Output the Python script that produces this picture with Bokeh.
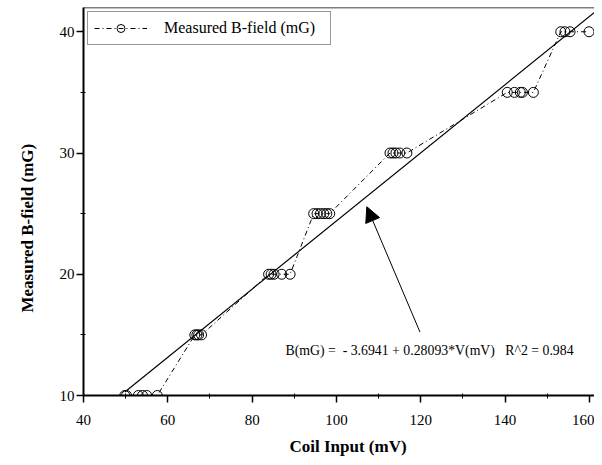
from bokeh.plotting import figure
from bokeh.models import FixedTicker, Arrow, NormalHead, Span, Label, Range1d, Title
from bokeh.embed import file_html
from bokeh.resources import INLINE
import numpy as np

# Data (coil input in mV, measured field in mG), in measurement order
coil_mv = [49.8, 50.2, 53.0, 54.0, 55.0, 57.5,
           66.4, 66.9, 67.3, 68.0,
           83.9, 84.5, 85.2, 87.0, 89.0,
           94.6, 95.4, 96.2, 97.0, 97.7, 98.4,
           112.7, 113.4, 114.1, 115.0, 116.7,
           140.5, 142.2, 143.6, 144.1, 146.7,
           153.2, 154.2, 155.4, 159.9]
field_mg = [10, 10, 10, 10, 10, 10,
            15, 15, 15, 15,
            20, 20, 20, 20, 20,
            25, 25, 25, 25, 25, 25,
            30, 30, 30, 30, 30,
            35, 35, 35, 35, 35,
            40, 40, 40, 40]
fit_intercept = -3.6941
fit_slope = 0.28093
fit_r2 = 0.984
x_ticks = [40, 60, 80, 100, 120, 140, 160]
x_minor = [50, 70, 90, 110, 130, 150]
y_ticks = [10, 20, 30, 40]
y_minor = [15, 25, 35]
X_START, X_END = 40, 161.2
Y_START, Y_END = 10, 42

FONT = "Liberation Serif"

p = figure(width=594, height=465,
           x_range=Range1d(X_START, X_END), y_range=Range1d(Y_START, Y_END),
           output_backend="svg", toolbar_location=None,
           min_border_left=80, min_border_right=0, min_border_top=7, min_border_bottom=70)
p.xgrid.visible = False
p.ygrid.visible = False
p.outline_line_color = None
p.background_fill_color = "white"

# top frame line
p.add_layout(Span(location=Y_END, dimension="width", line_color="black", line_width=1.5))

# data series
p.line(coil_mv, field_mg, line_color="black", line_width=1, line_dash="5 3 1 3",
       legend_label="Measured B-field (mG)")
p.scatter(coil_mv, field_mg, marker="circle", size=10, fill_color=None,
          line_color="black", line_width=1, legend_label="Measured B-field (mG)")

# regression line
fx = np.array([min(coil_mv), X_END])
fy = fit_intercept + fit_slope * fx
p.line(fx, fy, line_color="black", line_width=1.2)

# annotation
txt = ("B(mG) =\u00a0 - " + str(abs(fit_intercept)) + " + " + str(fit_slope) +
       "*V(mV)\u00a0\u00a0 R^2 = " + str(fit_r2))
p.add_layout(Label(x=87.9, y=13.72, text=txt, text_font=FONT, text_font_size="13.8px",
                   text_baseline="middle", text_align="left", text_color="black"))
p.add_layout(Arrow(end=NormalHead(size=15, fill_color="black", line_color="black"),
                   x_start=119.8, y_start=15.24, x_end=107.2, y_end=25.57,
                   line_color="black", line_width=1))

# axes
for ax in (p.xaxis[0], p.yaxis[0]):
    ax.axis_line_width = 2
    ax.axis_line_color = "black"
    ax.major_tick_line_color = "black"
    ax.minor_tick_line_color = "black"
    ax.major_tick_line_width = 1.5
    ax.minor_tick_line_width = 1
    ax.major_tick_out = 7
    ax.major_tick_in = 0
    ax.minor_tick_out = 3
    ax.minor_tick_in = 2
    ax.major_label_text_font = FONT
    ax.major_label_text_font_size = "15px"
    ax.major_label_text_color = "black"

p.xaxis[0].ticker = FixedTicker(ticks=x_ticks, minor_ticks=x_minor)
p.yaxis[0].ticker = FixedTicker(ticks=y_ticks, minor_ticks=y_minor)
p.xaxis[0].major_label_standoff = 12
p.yaxis[0].major_label_standoff = 2

# axis titles (placed like the reference, slightly off-centre)
p.add_layout(Title(text="Coil Input (mV)", text_font=FONT, text_font_size="17px",
                   text_font_style="bold", text_color="black", align="left",
                   offset=206, standoff=14), "below")
p.add_layout(Title(text="Measured B-field (mG)", text_font=FONT, text_font_size="17px",
                   text_font_style="bold", text_color="black", align="left",
                   vertical_align="top", offset=83, standoff=35), "left")

# legend
lg = p.legend[0]
lg.location = "top_left"
lg.margin = 4
lg.padding = 6
lg.spacing = 0
lg.label_text_font = FONT
lg.label_text_font_size = "16px"
lg.label_text_color = "black"
lg.glyph_width = 53
lg.label_standoff = 17
lg.label_width = 160
lg.label_height = 20
lg.glyph_height = 20
lg.border_line_color = "#333333"
lg.border_line_width = 1.5
lg.background_fill_color = "white"
lg.background_fill_alpha = 1

open("out.html", "w").write(file_html(p, INLINE))
